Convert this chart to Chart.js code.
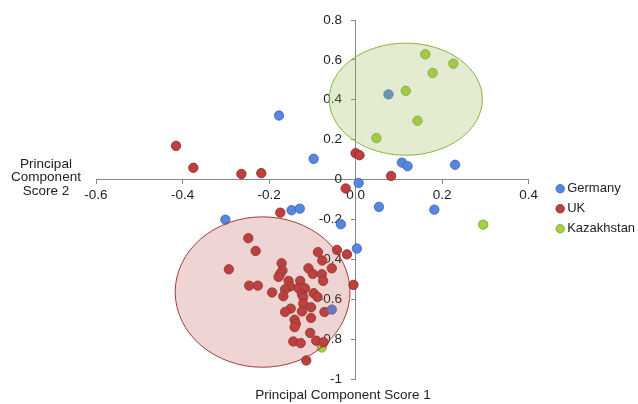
<!DOCTYPE html>
<html>
<head>
<meta charset="utf-8">
<script src="https://cdn.jsdelivr.net/npm/chart.js@4.4.1/dist/chart.umd.min.js"></script>
<style>
  html, body { margin: 0; padding: 0; background: #fff; }
  #wrap { width: 638px; height: 404px; }
</style>
</head>
<body>
<div id="wrap"><canvas id="c" width="638" height="404"></canvas></div>
<script>
// PCA scores: [score 1, score 2]
var germany = [
  [-0.177, 0.321], [0.076, 0.427], [-0.097, 0.104], [0.107, 0.085], [0.120, 0.067],
  [0.230, 0.074], [0.007, -0.017], [0.054, -0.137], [0.182, -0.151], [-0.148, -0.154],
  [-0.129, -0.146], [-0.301, -0.201], [-0.034, -0.224], [0.003, -0.346], [-0.055, -0.652]
];
var uk = [
  [-0.415, 0.169], [-0.375, 0.059], [-0.264, 0.028], [-0.218, 0.032], [0.000, 0.132],
  [0.009, 0.122], [0.082, 0.018], [-0.023, -0.045], [-0.174, -0.166],
  [-0.248, -0.294], [-0.231, -0.358], [-0.293, -0.450], [-0.246, -0.532], [-0.226, -0.532],
  [-0.193, -0.566], [-0.171, -0.420], [-0.169, -0.456], [-0.174, -0.472], [-0.178, -0.488],
  [-0.155, -0.508], [-0.128, -0.508], [-0.151, -0.536], [-0.163, -0.550], [-0.132, -0.545],
  [-0.117, -0.545], [-0.167, -0.585], [-0.124, -0.575], [-0.121, -0.589], [-0.097, -0.570],
  [-0.088, -0.589], [-0.121, -0.622], [-0.103, -0.640], [-0.150, -0.647], [-0.163, -0.664],
  [-0.124, -0.661], [-0.072, -0.664], [-0.141, -0.703], [-0.103, -0.694], [-0.138, -0.723],
  [-0.141, -0.740], [-0.105, -0.769], [-0.144, -0.812], [-0.127, -0.820], [-0.091, -0.808],
  [-0.074, -0.816], [-0.114, -0.907], [-0.109, -0.445], [-0.099, -0.473], [-0.078, -0.475],
  [-0.075, -0.508], [-0.055, -0.445], [-0.087, -0.364], [-0.077, -0.406], [-0.043, -0.353],
  [-0.020, -0.375], [-0.005, -0.528]
];
var kazakhstan = [
  [0.161, 0.628], [0.226, 0.581], [0.178, 0.534], [0.116, 0.445], [0.143, 0.295],
  [0.048, 0.208], [0.295, -0.226], [-0.078, -0.842]
];
var seriesNames = ["Germany", "UK", "Kazakhstan"];
var xTickLabels = ["-0.6", "-0.4", "-0.2", "0.0", "0.2", "0.4"];
var yTickLabels = ["-1", "-0.8", "-0.6", "-0.4", "-0.2", "0", "0.2", "0.4", "0.6", "0.8"];
var xTitle = "Principal Component Score 1";
var yTitle = ["Principal", "Component", "Score 2"];
// cluster ellipses in data units: centre x, centre y, radius x, radius y
var clusterEllipses = [
  { cx: 0.116, cy: 0.403, rx: 0.177, ry: 0.281, name: "Kazakhstan" },
  { cx: -0.215, cy: -0.564, rx: 0.202, ry: 0.377, name: "UK" }
];

var FONT = "'Liberation Sans', Arial, Helvetica, sans-serif";
var TEXT = "#222";
var AXIS = "#868686";

function pts(arr) {
  return arr.map(function(p) { return { x: p[0], y: p[1] }; });
}

var ellipseStyle = {
  Kazakhstan: { fill: "rgba(155,187,89,0.28)", line: "#8db041" },
  UK: { fill: "rgba(185,80,77,0.24)", line: "#a33b3a" }
};

var ellipsePlugin = {
  id: "ellipses",
  afterDatasetsDraw: function(chart) {
    var ctx = chart.ctx, xs = chart.scales.x, ys = chart.scales.y;
    clusterEllipses.forEach(function(e) {
      var cx = xs.getPixelForValue(e.cx), cy = ys.getPixelForValue(e.cy);
      var rx = Math.abs(xs.getPixelForValue(e.cx + e.rx) - cx);
      var ry = Math.abs(ys.getPixelForValue(e.cy + e.ry) - cy);
      var st = ellipseStyle[e.name];
      ctx.save();
      ctx.beginPath();
      ctx.ellipse(cx, cy, rx, ry, 0, 0, Math.PI * 2);
      ctx.fillStyle = st.fill;
      ctx.fill();
      ctx.lineWidth = 1;
      ctx.strokeStyle = st.line;
      ctx.stroke();
      ctx.restore();
    });
  }
};

var titlePlugin = {
  id: "axisTitles",
  afterDraw: function(chart) {
    var ctx = chart.ctx, a = chart.chartArea;
    ctx.save();
    ctx.fillStyle = TEXT;
    ctx.font = "13.5px " + FONT;
    ctx.textAlign = "center";
    ctx.textBaseline = "middle";
    ctx.fillText(xTitle, a.left + 247, a.bottom + 16);
    yTitle.forEach(function(line, i) {
      ctx.fillText(line, a.left - 50, a.top + 144 + i * 13.5);
    });
    ctx.restore();
  }
};

new Chart(document.getElementById("c"), {
  type: "scatter",
  data: {
    datasets: [
      { label: seriesNames[0], data: pts(germany), backgroundColor: "#5786e0", borderColor: "#3b63b8" },
      { label: seriesNames[1], data: pts(uk), backgroundColor: "#be3f3d", borderColor: "#8a2523" },
      { label: seriesNames[2], data: pts(kazakhstan), backgroundColor: "#a6d043", borderColor: "#7b9c2c" }
    ]
  },
  options: {
    responsive: false,
    animation: false,
    layout: { padding: { left: 96, top: 20, bottom: 25, right: -6 } },
    elements: { point: { radius: 4.7, borderWidth: 0.8, pointStyle: "circle" } },
    scales: {
      x: {
        type: "linear", min: -0.6, max: 0.4, position: { y: 0 },
        border: { color: AXIS, width: 1 },
        grid: { drawOnChartArea: false, color: AXIS, tickLength: 4 },
        ticks: {
          stepSize: 0.2, color: TEXT, padding: 4, maxRotation: 0,
          font: { family: FONT, size: 13.5 },
          callback: function(v, i) { return xTickLabels[i]; }
        }
      },
      y: {
        type: "linear", min: -1, max: 0.8, position: { x: 0 },
        border: { color: AXIS, width: 1 },
        grid: { drawOnChartArea: false, color: AXIS, tickLength: 4 },
        ticks: {
          stepSize: 0.2, color: TEXT,
          font: { family: FONT, size: 13.5 },
          // labels sit right-aligned on the axis, so pad them off it
          callback: function(v, i) { return yTickLabels[i] + "\u2002\u2002"; }
        }
      },
      gap: {
        type: "linear", axis: "y", position: "right", display: true,
        grid: { display: false }, border: { display: false }, ticks: { display: false },
        afterFit: function(s) { s.width = 24; }
      }
    },
    plugins: {
      legend: {
        position: "right",
        title: { display: true, text: "", font: { size: 12 }, padding: 2 },
        labels: {
          usePointStyle: true, pointStyle: "circle", boxWidth: 1, boxHeight: 6,
          padding: 7, color: TEXT, font: { family: FONT, size: 13 }
        }
      },
      tooltip: { enabled: false }
    }
  },
  plugins: [ellipsePlugin, titlePlugin]
});
</script>
</body>
</html>
